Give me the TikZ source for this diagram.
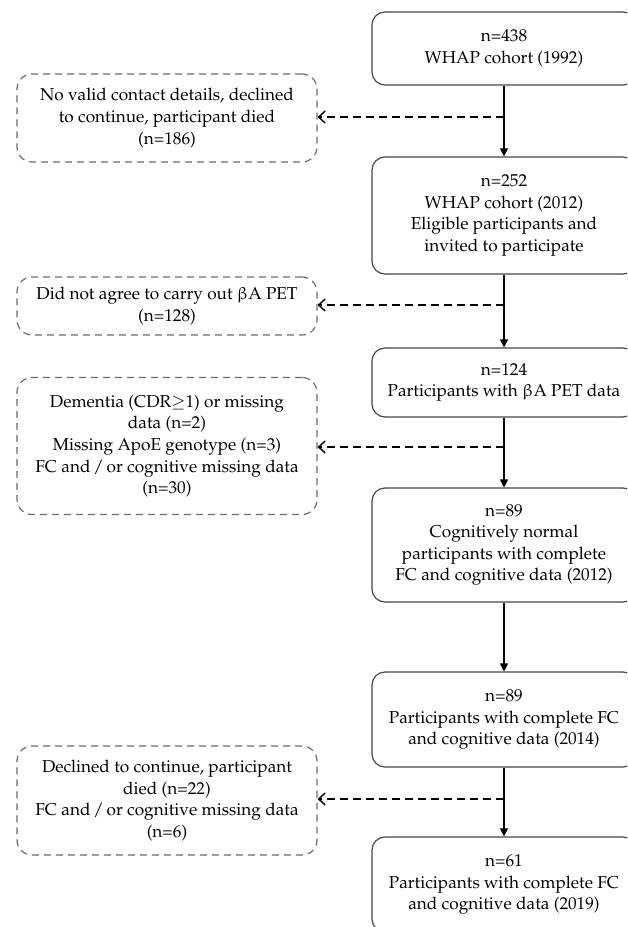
\documentclass[tikz,border=0pt]{standalone}
\usepackage[T1]{fontenc}
\usepackage{mathpazo}
\usepackage{upgreek}
\usetikzlibrary{arrows.meta}
\begin{document}
\begin{tikzpicture}[x=1pt,y=-1pt,
  txt/.style={align=center, inner sep=0pt, text=black, font=\fontsize{17.2}{21.6}\selectfont},
  mainbox/.style={txt, draw=black!72, line width=1.2pt, rounded corners=13pt, minimum width=264pt},
  sidebox/.style={txt, draw=black!58, line width=1.2pt, dash pattern=on 7pt off 5pt, rounded corners=15pt, minimum width=300pt},
  flow/.style={-{Triangle[length=8pt,width=8pt]}, line width=1.4pt, draw=black},
  exclude/.style={-{Straight Barb[length=6.5pt,width=12pt]}, line width=1.4pt, dash pattern=on 8pt off 5pt, draw=black}]
\useasboundingbox (0,0) rectangle (627,927);
\clip (0,0) rectangle (627,927);
% main column
\node[mainbox, minimum height=73pt] (b1) at (504,48.5) {n=438\\WHAP cohort (1992)};
\node[mainbox, minimum height=117pt] (b2) at (504,215.5) {n=252\\WHAP cohort (2012)\\Eligible participants and\\invited to participate};
\node[mainbox, minimum height=69pt] (b3) at (504,382.5) {n=124\\Participants with $\upbeta$A PET data};
\node[mainbox, minimum height=114pt] (b4) at (504,545) {n=89\\Cognitively normal\\participants with complete\\FC and cognitive data (2012)};
\node[mainbox, minimum height=95pt] (b5) at (504,719.5) {n=89\\Participants with complete FC\\and cognitive data (2014)};
\node[mainbox, minimum height=95pt] (b6) at (504,884.5) {n=61\\Participants with complete FC\\and cognitive data (2019)};
% exclusion boxes
\node[sidebox, minimum height=88pt] (d1) at (167,118) {No valid contact details, declined\\to continue, participant died\\(n=186)};
\node[sidebox, minimum height=58pt] (d2) at (167,306) {Did not agree to carry out $\upbeta$A PET\\(n=128)};
\node[sidebox, minimum height=137pt] (d3) at (167,446) {Dementia (CDR$\geq$1) or missing\\data (n=2)\\Missing ApoE genotype (n=3)\\FC and\,/\,or cognitive missing data\\(n=30)};
\node[sidebox, minimum height=109pt] (d4) at (167,800.5) {Declined to continue, participant\\died (n=22)\\FC and\,/\,or cognitive missing data\\(n=6)};
% junctions
\coordinate (j1) at (504,117);
\coordinate (j2) at (504,305);
\coordinate (j3) at (504,447);
\coordinate (j4) at (504,799);
% connectors
\draw[flow] (b1.south) -- (b2.north);
\draw[flow] (b2.south) -- (b3.north);
\draw[flow] (b3.south) -- (b4.north);
\draw[flow] (b4.south) -- (b5.north);
\draw[flow] (b5.south) -- (b6.north);
\draw[exclude] (j1) -- (j1 -| d1.east);
\draw[exclude] (j2) -- (j2 -| d2.east);
\draw[exclude] (j3) -- (j3 -| d3.east);
\draw[exclude] (j4) -- (j4 -| d4.east);
\end{tikzpicture}
\end{document}
